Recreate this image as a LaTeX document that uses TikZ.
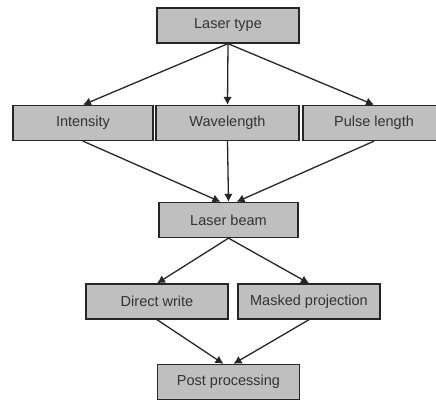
\documentclass[tikz,border=0pt]{standalone}
\usepackage{fontspec}
\setmainfont{Liberation Sans}
\usetikzlibrary{arrows.meta,positioning}
\tikzstyle{box} =[rectangle, draw=black!85, fill=black!25,
                  line width=1.3pt, minimum width=142pt,
                  minimum height=35pt, inner sep=0pt, text=black!80,
                  font=\fontsize{14.5}{16}\selectfont]
\tikzstyle{edge}=[-{Latex[length=8pt,width=8.5pt]},
                  line width=1.3pt, draw=black!85]
\begin{document}
\begin{tikzpicture}[x=1pt, y=-1pt]
    \useasboundingbox (0,0) rectangle (436,399);
    \node[box] (t) at (228,25.5) {Laser type};
    \node[box, minimum width=140pt] (i) at (83,123) {Intensity};
    \node[box, minimum width=143pt] (w) at (227.5,123) {Wavelength};
    \node[box] (p) at (374,123) {Pulse length};
    \node[box, minimum width=139pt] (b) at (228.5,220) {Laser beam};
    \node[box] (d) at (157,301.5) {Direct write};
    \node[box] (m) at (309,301.5) {Masked projection};
    \node[box] (pp) at (228.5,382) {Post processing};
    \draw[edge] (t.south) to (i.north);
    \draw[edge] (t.south) to (w.north);
    \draw[edge] (t.south) to (p.north);
    \draw[edge] (i.south) to ([xshift=-8pt]b.north);
    \draw[edge] (w.south) to (b.north);
    \draw[edge] (p.south) to ([xshift=8pt]b.north);
    \draw[edge] (b.south) to (d.north);
    \draw[edge] (b.south) to (m.north);
    \draw[edge] (d.south) to ([xshift=-5pt]pp.north);
    \draw[edge] (m.south) to ([xshift=5pt]pp.north);
\end{tikzpicture}
\end{document}
